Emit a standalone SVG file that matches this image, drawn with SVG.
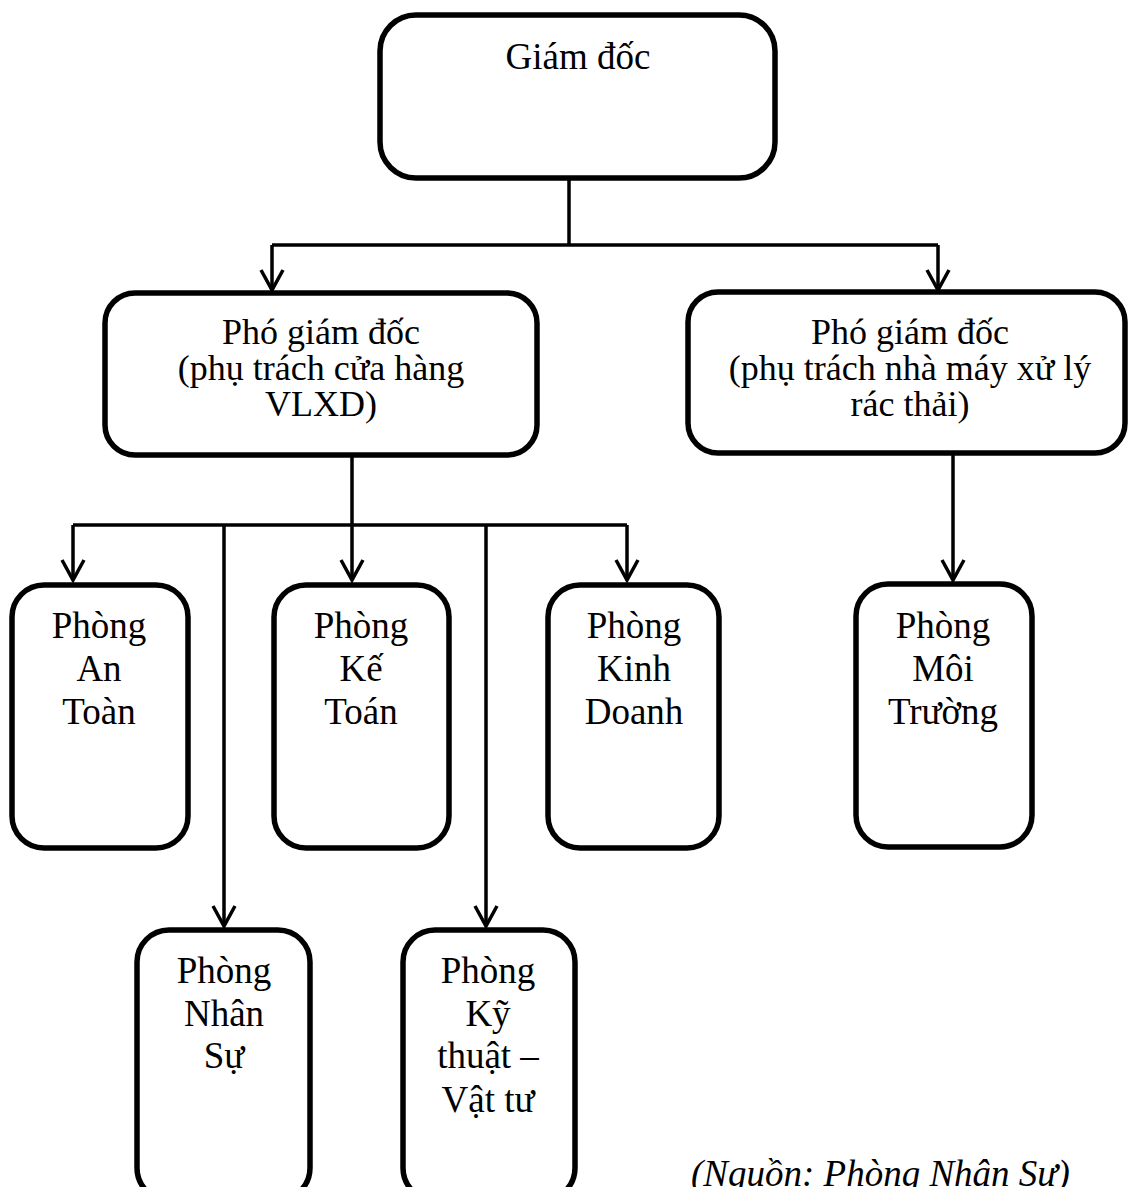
<svg xmlns="http://www.w3.org/2000/svg" width="1128" height="1187" viewBox="0 0 1128 1187">
  <style>
    .box { fill: #ffffff; stroke: #000000; stroke-width: 5.5; }
    .lbl { font-family: "Liberation Serif", "Times New Roman", serif; font-size: 37px; fill: #000000; text-anchor: middle; }
    .lbl2 { font-family: "Liberation Serif", "Times New Roman", serif; font-size: 36px; fill: #000000; text-anchor: middle; }
    .wire { fill: none; stroke: #000000; stroke-width: 3.5; }
    .note { font-family: "Liberation Serif", "Times New Roman", serif; font-size: 37px; font-style: italic; fill: #000000; }
  </style>
  <defs>
    <marker id="head" markerUnits="userSpaceOnUse" markerWidth="30" markerHeight="30" refX="0" refY="0" orient="auto" overflow="visible">
      <path d="M -20 -11 L 0 0 L -20 11" fill="none" stroke="#000000" stroke-width="3.5" stroke-linejoin="miter"/>
    </marker>
  </defs>
  <rect width="1128" height="1187" fill="#ffffff"/>

  <!-- connectors -->
  <g id="connectors">
    <!-- director to deputies -->
    <path class="wire" d="M 569 178 V 245"/>
    <path class="wire" d="M 272 245 H 938"/>
    <path class="wire" d="M 272 245 V 290" marker-end="url(#head)"/>
    <path class="wire" d="M 938 245 V 290" marker-end="url(#head)"/>
    <!-- store deputy to departments -->
    <path class="wire" d="M 73 525 H 627"/>
    <path class="wire" d="M 73 525 V 580" marker-end="url(#head)"/>
    <path class="wire" d="M 224 525 V 926" marker-end="url(#head)"/>
    <path class="wire" d="M 352 455 V 580" marker-end="url(#head)"/>
    <path class="wire" d="M 486 525 V 926" marker-end="url(#head)"/>
    <path class="wire" d="M 627 525 V 580" marker-end="url(#head)"/>
    <!-- plant deputy to environment dept -->
    <path class="wire" d="M 953 455 V 580" marker-end="url(#head)"/>
  </g>

  <!-- nodes -->
  <g id="giam-doc">
    <rect class="box" x="380" y="15" width="395" height="163" rx="36"/>
    <text class="lbl" x="578" y="69">Giám đốc</text>
  </g>

  <g id="pgd-cua-hang">
    <rect class="box" x="105" y="293" width="432" height="162" rx="30"/>
    <text class="lbl2" x="321" y="344">Phó giám đốc</text>
    <text class="lbl2" x="321" y="380">(phụ trách cửa hàng</text>
    <text class="lbl2" x="321" y="416">VLXD)</text>
  </g>

  <g id="pgd-nha-may">
    <rect class="box" x="688" y="292" width="437" height="161" rx="30"/>
    <text class="lbl2" x="910" y="344">Phó giám đốc</text>
    <text class="lbl2" x="910" y="380">(phụ trách nhà máy xử lý</text>
    <text class="lbl2" x="910" y="416">rác thải)</text>
  </g>

  <g id="phong-an-toan">
    <rect class="box" x="12" y="585" width="176" height="263" rx="32"/>
    <text class="lbl" x="99" y="638">Phòng</text>
    <text class="lbl" x="99" y="681">An</text>
    <text class="lbl" x="99" y="724">Toàn</text>
  </g>

  <g id="phong-ke-toan">
    <rect class="box" x="274" y="585" width="175" height="263" rx="32"/>
    <text class="lbl" x="361" y="638">Phòng</text>
    <text class="lbl" x="361" y="681">Kế</text>
    <text class="lbl" x="361" y="724">Toán</text>
  </g>

  <g id="phong-kinh-doanh">
    <rect class="box" x="548" y="585" width="171" height="263" rx="32"/>
    <text class="lbl" x="634" y="638">Phòng</text>
    <text class="lbl" x="634" y="681">Kinh</text>
    <text class="lbl" x="634" y="724">Doanh</text>
  </g>

  <g id="phong-moi-truong">
    <rect class="box" x="856" y="584" width="176" height="263" rx="32"/>
    <text class="lbl" x="943" y="638">Phòng</text>
    <text class="lbl" x="943" y="681">Môi</text>
    <text class="lbl" x="943" y="724">Trường</text>
  </g>

  <g id="phong-nhan-su">
    <rect class="box" x="137" y="930" width="173" height="270" rx="32"/>
    <text class="lbl" x="224" y="983">Phòng</text>
    <text class="lbl" x="224" y="1026">Nhân</text>
    <text class="lbl" x="224" y="1068">Sự</text>
  </g>

  <g id="phong-ky-thuat">
    <rect class="box" x="403" y="930" width="172" height="270" rx="32"/>
    <text class="lbl" x="488" y="983">Phòng</text>
    <text class="lbl" x="488" y="1026">Kỹ</text>
    <text class="lbl" x="488" y="1068">thuật –</text>
    <text class="lbl" x="488" y="1112">Vật tư</text>
  </g>

  <text class="note" x="691" y="1186">(Nguồn: Phòng Nhân Sự)</text>
</svg>
